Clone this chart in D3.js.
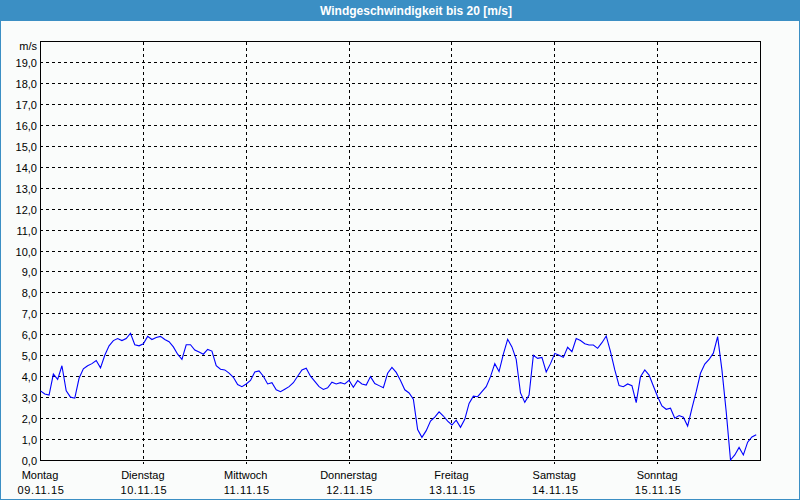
<!DOCTYPE html>
<html><head><meta charset="utf-8">
<script src="https://cdn.jsdelivr.net/npm/d3@7"></script>
<style>
html,body{margin:0;padding:0;background:#fafcfb;}
svg{display:block;}
</style></head>
<body>
<script>
// ---- data (hourly wind speed, m/s, Mon 09.11.15 00:00 .. Sun 15.11.15 23:00)
const title = "Windgeschwindigkeit bis 20 [m/s]";
const unitLabel = "m/s";
const dayNames = ["Montag","Dienstag","Mittwoch","Donnerstag","Freitag","Samstag","Sonntag"];
const dayDates = ["09.11.15","10.11.15","11.11.15","12.11.15","13.11.15","14.11.15","15.11.15"];
const yTicks = [0,1,2,3,4,5,6,7,8,9,10,11,12,13,14,15,16,17,18,19];
const monday    = [3.3,3.15,3.1,4.1,3.85,4.5,3.3,3.0,2.95,3.9,4.35,4.5,4.6,4.75,4.4,5.0,5.45,5.7,5.8,5.7,5.8,6.05,5.5,5.45];
const tuesday   = [5.55,5.9,5.75,5.85,5.9,5.75,5.65,5.4,5.05,4.8,5.5,5.5,5.25,5.15,5.05,5.28,5.2,4.5,4.33,4.3,4.15,3.95,3.6,3.5];
const wednesday = [3.63,3.8,4.2,4.25,4.0,3.63,3.69,3.35,3.26,3.38,3.5,3.69,4.0,4.3,4.38,4.0,3.75,3.5,3.37,3.45,3.71,3.63,3.69,3.63];
const thursday  = [3.8,3.47,3.79,3.63,3.58,3.98,3.65,3.55,3.45,4.14,4.42,4.18,3.79,3.35,3.2,2.9,1.45,1.08,1.4,1.86,2.05,2.3,2.1,1.86];
const friday    = [1.67,1.9,1.56,1.94,2.7,3.05,3.02,3.26,3.5,3.98,4.6,4.22,5.05,5.76,5.4,4.8,3.2,2.75,3.1,5.0,4.85,4.9,4.2,4.6];
const saturday  = [5.09,5.0,4.9,5.38,5.17,5.8,5.7,5.55,5.49,5.49,5.33,5.6,5.92,5.17,4.3,3.55,3.5,3.63,3.55,2.74,3.98,4.3,4.05,3.53];
const sunday    = [3.02,2.58,2.42,2.47,2.0,2.12,2.04,1.62,2.47,3.26,4.14,4.58,4.8,5.1,5.89,4.3,2.3,0.0,0.24,0.6,0.24,0.85,1.1,1.2];
const windSpeed = [].concat(monday,tuesday,wednesday,thursday,friday,saturday,sunday);

const W = 800, H = 500;
const svg = d3.select("body").append("svg").attr("width",W).attr("height",H);

// window frame + title bar
svg.append("rect").attr("x",0.5).attr("y",0.5).attr("width",W-1).attr("height",H-1)
   .attr("fill","#fafcfb").attr("stroke","#3b8fc4").attr("stroke-width",1);
svg.append("rect").attr("x",0).attr("y",0).attr("width",W).attr("height",21).attr("fill","#3b8fc4");
svg.append("text").attr("x",416).attr("y",15).attr("text-anchor","middle")
   .attr("fill","#ffffff").attr("font-family","Liberation Sans, Arial, sans-serif")
   .attr("font-weight","bold").attr("font-size","12px").text(title);

const x = d3.scaleLinear().domain([0, 168]).range([40, 760]);
const y = d3.scaleLinear().domain([0, 20]).range([460, 41]);
const px = v => Math.round(x(v)) + 0.5;
const py = v => Math.round(y(v)) + 0.5;
const font = "Liberation Sans, Arial, sans-serif";

const g = svg.append("g");
// horizontal dashed gridlines
g.selectAll(".hg").data(yTicks.filter(d => d > 0)).join("line")
  .attr("x1", 40).attr("x2", 760).attr("y1", d => py(d)).attr("y2", d => py(d))
  .attr("stroke","#000").attr("stroke-dasharray","3,3").attr("shape-rendering","crispEdges");
// vertical dashed day lines (+ tick below axis)
const dayStarts = d3.range(1, dayNames.length).map(i => i * 24);
g.selectAll(".vg").data(dayStarts).join("line")
  .attr("x1", d => px(d)).attr("x2", d => px(d)).attr("y1", py(20)).attr("y2", py(0) + 3)
  .attr("stroke","#000").attr("stroke-dasharray","3,3").attr("shape-rendering","crispEdges");

// frame
g.append("rect").attr("x", px(0)).attr("y", py(20)).attr("width", px(168) - px(0)).attr("height", py(0) - py(20))
  .attr("fill","none").attr("stroke","#000").attr("shape-rendering","crispEdges");

// y labels
g.selectAll(".yl").data(yTicks).join("text")
  .attr("x", 37).attr("y", d => py(d) + 4).attr("text-anchor","end")
  .attr("font-family", font).attr("font-size","11px").attr("fill","#000")
  .text(d => d3.format(".1f")(d).replace(".", ","));
g.append("text").attr("x", 37).attr("y", 50).attr("text-anchor","end")
  .attr("font-family", font).attr("font-size","11px").attr("fill","#000").text(unitLabel);

// x labels
const dayIdx = d3.range(dayNames.length);
g.selectAll(".xl1").data(dayIdx).join("text")
  .attr("x", d => x(d * 24)).attr("y", 479).attr("text-anchor","middle")
  .attr("font-family", font).attr("font-size","11px").attr("fill","#000").text(d => dayNames[d]);
g.selectAll(".xl2").data(dayIdx).join("text")
  .attr("x", d => x(d * 24) + 1).attr("y", 494).attr("text-anchor","middle")
  .attr("font-family", font).attr("font-size","11px").attr("letter-spacing","0.6px").attr("fill","#000").text(d => dayDates[d]);

// line
const line = d3.line().x((d, i) => x(i) + 0.5).y(d => y(d));
g.append("path").datum(windSpeed).attr("d", line)
  .attr("fill","none").attr("stroke","#0000ff").attr("stroke-width",1.1);
</script>
</body></html>
